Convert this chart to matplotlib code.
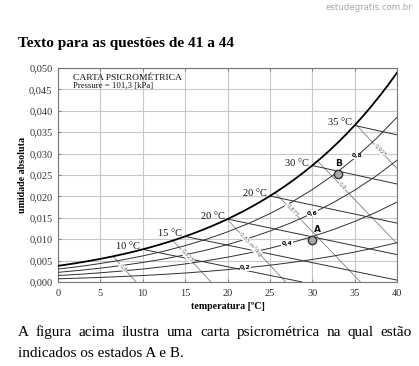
import matplotlib
matplotlib.use("Agg")
import matplotlib.pyplot as plt
import numpy as np

# ---------------- data ----------------
sat_T = list(range(0, 41))
w_sat = [0.003776, 0.004061, 0.004365, 0.004690, 0.005036, 0.005404, 0.005797, 0.006214,
         0.006658, 0.007130, 0.007633, 0.008167, 0.008734, 0.009337, 0.009976, 0.010653,
         0.011372, 0.012134, 0.012941, 0.013797, 0.014702, 0.015662, 0.016678, 0.017752,
         0.018889, 0.020091, 0.021363, 0.022707, 0.024128, 0.025630, 0.027217, 0.028893,
         0.030663, 0.032533, 0.034509, 0.036594, 0.038796, 0.041121, 0.043577, 0.046170,
         0.048906]

temps = [0, 2.5, 5, 7.5, 10, 12.5, 15, 17.5, 20, 22.5, 25, 27.5, 30, 32.5, 35, 37.5, 40]
rh80 = [0.00302, 0.00361, 0.00432, 0.00514, 0.00609, 0.00720, 0.00849, 0.00998, 0.01171,
        0.01369, 0.01597, 0.01858, 0.02158, 0.02500, 0.02892, 0.03340, 0.03850]
rh60 = [0.00226, 0.00271, 0.00323, 0.00385, 0.00456, 0.00539, 0.00635, 0.00746, 0.00874,
        0.01021, 0.01190, 0.01383, 0.01604, 0.01857, 0.02144, 0.02472, 0.02844]
rh40 = [0.00151, 0.00180, 0.00215, 0.00256, 0.00303, 0.00358, 0.00422, 0.00495, 0.00580,
        0.00677, 0.00788, 0.00915, 0.01061, 0.01226, 0.01413, 0.01626, 0.01867]
rh20 = [0.00075, 0.00090, 0.00107, 0.00128, 0.00151, 0.00179, 0.00210, 0.00247, 0.00289,
        0.00337, 0.00392, 0.00454, 0.00526, 0.00607, 0.00699, 0.00803, 0.00920]
rh_labels = ["0,2", "0,4", "0,6", "0,8"]
rh_label_T = [22.1, 27.0, 30.0, 35.3]

# wet-bulb lines (start on saturation curve, end point)
wb_T = [10, 15, 20, 25, 30, 35]
wb_w0 = [0.00763, 0.01065, 0.01470, 0.02009, 0.02721, 0.03658]
wb_T1 = [28.8, 40, 40, 40, 40, 40]
wb_w1 = [0.0, 0.00044, 0.00640, 0.01376, 0.02290, 0.03438]
wb_labels = ["10 °C", "15 °C", "20 °C", "20 °C", "30 °C", "35 °C"]

# specific-volume lines
vol_labels = ["0,8", "0,825", "0,85 m³/kg", "0,875", "0,9", "0,925"]
vol_T0 = [6.5, 13.55, 19.95, 25.6, 30.65, 35.1]
vol_w0 = [0.00600, 0.00968, 0.01470, 0.02090, 0.02820, 0.03690]
vol_T1 = [9.22, 18.04, 26.87, 35.69, 40.0, 40.0]
vol_w1 = [0.0, 0.0, 0.0, 0.0, 0.00898, 0.02650]
vol_label_T = [7.7, 15.2, 22.7, 27.6, 33.5, 38.0]

states = ["A", "B"]
state_T = [30.0, 33.0]
state_w = [0.0098, 0.0252]

x_ticks = [0, 5, 10, 15, 20, 25, 30, 35, 40]
y_ticks = [0.0, 0.005, 0.010, 0.015, 0.020, 0.025, 0.030, 0.035, 0.040, 0.045, 0.050]
y_tick_labels = ["0,000", "0,005", "0,010", "0,015", "0,020", "0,025",
                 "0,030", "0,035", "0,040", "0,045", "0,050"]

# ---------------- figure ----------------
W, H = 419, 366
fig = plt.figure(figsize=(W / 100, H / 100), dpi=100)
fig.patch.set_facecolor("white")
serif = "Liberation Serif"

ax = fig.add_axes([58 / W, 1 - 282 / H, 339 / W, 214 / H])
ax.set_xlim(0, 40)
ax.set_ylim(0, 0.05)
ax.set_xticks(x_ticks)
ax.set_xticklabels([str(t) for t in x_ticks])
ax.set_yticks(y_ticks)
ax.set_yticklabels(y_tick_labels)
for lab in ax.get_xticklabels() + ax.get_yticklabels():
    lab.set_fontfamily(serif)
    lab.set_fontsize(7.5)
    lab.set_color("#333333")
ax.tick_params(direction="in", length=2, color="#888888", top=True, pad=4)
ax.tick_params(axis="x", pad=5)
ax.grid(True, color="#c8c8c8", lw=0.8)
ax.set_axisbelow(True)
for s in ax.spines.values():
    s.set_color("#777777")
    s.set_linewidth(0.8)

ax.set_xlabel("temperatura [ºC]", fontfamily=serif, fontweight="bold", fontsize=7.2, labelpad=3)
ax.set_ylabel("umidade absoluta", fontfamily=serif, fontweight="bold", fontsize=7.2, labelpad=1.5)

line_c = "#303030"
vol_c = "#808080"

# RH curves
for arr in (rh20, rh40, rh60, rh80):
    ax.plot(temps, arr, color=line_c, lw=0.7, zorder=3)
# wet-bulb lines
for t0, w0, t1, w1 in zip(wb_T, wb_w0, wb_T1, wb_w1):
    ax.plot([t0, t1], [w0, w1], color=line_c, lw=0.7, zorder=3)
# volume lines
for t0, w0, t1, w1 in zip(vol_T0, vol_w0, vol_T1, vol_w1):
    ax.plot([t0, t1], [w0, w1], color=vol_c, lw=0.6, zorder=2)
# saturation curve
ax.plot(sat_T, w_sat, color="black", lw=1.3, zorder=4)

# wet bulb labels
for t, w, lab in zip(wb_T, wb_w0, wb_labels):
    ax.annotate(lab, (t, w), xytext=(-3, 2.5), textcoords="offset pixels",
                ha="right", va="center", fontfamily=serif, fontsize=7.5, color="#111111")

# RH labels
for lab, t, arr in zip(rh_labels, rh_label_T, (rh20, rh40, rh60, rh80)):
    w = np.interp(t, temps, arr)
    ax.text(t, w, lab, ha="center", va="center", fontsize=4.3, fontweight="bold",
            color="black", zorder=6,
            bbox=dict(facecolor="white", edgecolor="none", pad=0.3))

# volume labels (rotated along line)
fig.canvas.draw()
for lab, tl, t0, w0, t1, w1 in zip(vol_labels, vol_label_T, vol_T0, vol_w0, vol_T1, vol_w1):
    p0 = ax.transData.transform((t0, w0))
    p1 = ax.transData.transform((t1, w1))
    ang = np.degrees(np.arctan2(p1[1] - p0[1], p1[0] - p0[0]))
    wl = w0 + (w1 - w0) * (tl - t0) / (t1 - t0)
    ax.text(tl, wl, lab, rotation=ang, rotation_mode="anchor", ha="center", va="center",
            fontsize=4, color="#666666", zorder=5,
            bbox=dict(facecolor="white", edgecolor="none", pad=0.2))

# states A and B
ax.plot(state_T, state_w, "o", ms=6, mfc="#a8a8a8", mec="#333333", mew=1.0, zorder=7)
offs = [(5, 11), (1, 11)]
for s, t, w, o in zip(states, state_T, state_w, offs):
    ax.annotate(s, (t, w), xytext=o, textcoords="offset pixels", ha="center", va="center",
                fontsize=6.5, fontweight="bold", color="#111111")

# chart title box
ax.text(0.045, 0.955, "CARTA PSICROMÉTRICA", transform=ax.transAxes, fontfamily=serif,
        fontsize=6.8, va="center", ha="left", color="#111111")
ax.text(0.045, 0.915, "Pressure = 101,3 [kPa]", transform=ax.transAxes, fontfamily=serif,
        fontsize=6.3, va="center", ha="left", color="#111111")

# ---------------- page texts ----------------
fig.text(412 / W, 1 - 8 / H, "estudegratis.com.br", ha="right", va="center",
         fontsize=6.2, color="#a8a8a8")
fig.text(18 / W, 1 - 47 / H, "Texto para as questões de 41 a 44", ha="left", va="baseline",
         fontfamily=serif, fontweight="bold", fontsize=11, color="black")

def justified(text, x0, x1, yb, size):
    words = text.split()
    objs = [fig.text(0, 1 - yb / H, wd, ha="left", va="baseline", fontfamily=serif,
                     fontsize=size, color="black") for wd in words]
    fig.canvas.draw()
    r = fig.canvas.get_renderer()
    widths = [o.get_window_extent(r).width for o in objs]
    gap = (x1 - x0 - sum(widths)) / (len(words) - 1)
    x = x0
    for o, wd in zip(objs, widths):
        o.set_x(x / W)
        x += wd + gap

justified("A figura acima ilustra uma carta psicrométrica na qual estão", 18, 412, 336, 11)
fig.text(18 / W, 1 - 357 / H, "indicados os estados A e B.", ha="left", va="baseline",
         fontfamily=serif, fontsize=11, color="black")

fig.savefig("out.png", dpi=100, facecolor="white")
